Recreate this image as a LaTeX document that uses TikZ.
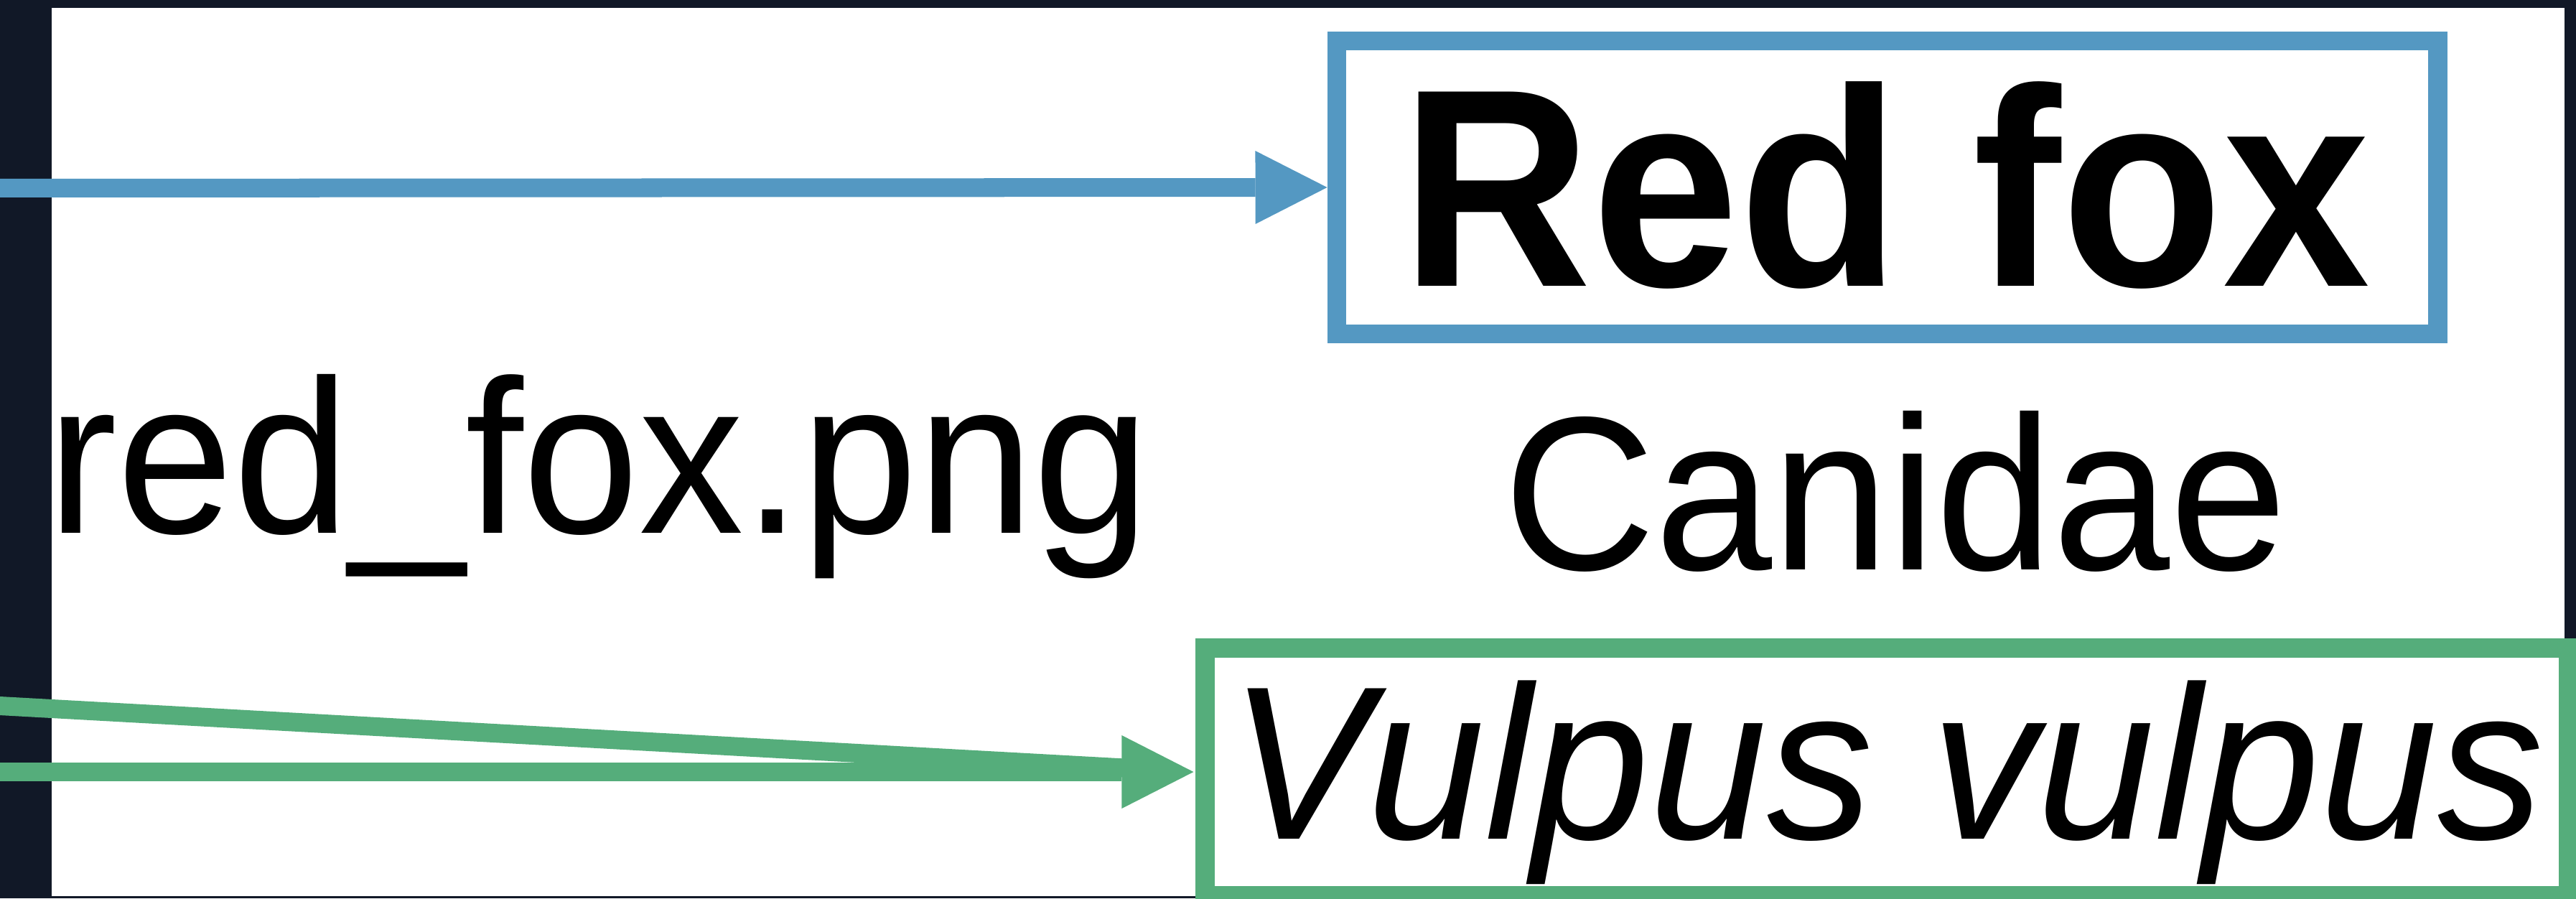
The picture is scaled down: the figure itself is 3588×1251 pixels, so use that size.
\documentclass[tikz,border=0pt]{standalone}
\usepackage{fontspec}
\usepackage{graphicx}
\setmainfont{Liberation Sans}
\usetikzlibrary{arrows.meta}

\definecolor{pagebg}{RGB}{17,24,39}
\definecolor{linkblue}{RGB}{84,152,194}
\definecolor{linkgreen}{RGB}{85,173,123}

\tikzset{
  link/.style={line width=0.26cm,
    -{Triangle[length=1cm,width=1.02cm,line width=0pt]}},
  bluelink/.style={link, draw=linkblue, fill=linkblue},
  greenlink/.style={link, draw=linkgreen, fill=linkgreen},
  greenfeed/.style={line width=0.26cm, draw=linkgreen},
  framebox/.style={rectangle, inner sep=0pt, fill=white},
  plaintext/.style={inner sep=0pt, text=black},
}

\begin{document}
\begin{tikzpicture}[x=0.01cm, y=-0.01cm]
  \useasboundingbox (0,0) rectangle (3588,1251);
  % dark surround and white card
  \fill[pagebg] (0,0) rectangle (3588,1251);
  \fill[white] (72,11) rectangle (3572,1248);

  % file name and family
  \node[plaintext, anchor=base west] (file) at (66,742)
    {\fontsize{86.8pt}{100pt}\selectfont\scalebox{0.952}[1]{red\_fox.png}};
  \node[plaintext, anchor=base] (family) at (2640,793)
    {\fontsize{86.8pt}{100pt}\selectfont\scalebox{0.96}[1]{Canidae}};

  % common name box
  \node[framebox, draw=linkblue, line width=0.26cm,
        minimum width=15.33cm, minimum height=4.08cm,
        text height=2.81cm, text depth=0.07cm] (common) at (2628.5,261)
    {\fontsize{111.8pt}{120pt}\selectfont\bfseries\hspace*{-0.04cm}\scalebox{0.936}[1]{Red fox}};

  % scientific name box
  \node[framebox, draw=linkgreen, line width=0.27cm,
        minimum width=18.97cm, minimum height=3.44cm,
        text height=2.18cm, text depth=0.32cm] (sci) at (2628,1075)
    {\fontsize{86.6pt}{100pt}\selectfont\itshape\scalebox{0.968}[1]{Vulpus vulpus}};

  % incoming links from the left
  \coordinate (inA) at (-60,262);
  \coordinate (inB) at (-60,979.7);
  \coordinate (inC) at (-60,1075);
  \draw[bluelink] (inA) -- (common.west);
  \draw[greenfeed, shorten >=0.9cm] (inB) -- (sci.west);
  \draw[greenlink, shorten >=0.03cm] (inC) -- (sci.west);
\end{tikzpicture}
\end{document}
